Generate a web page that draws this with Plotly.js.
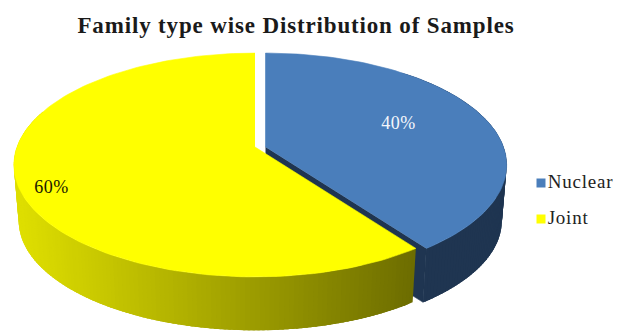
<!DOCTYPE html>
<html>
<head>
<meta charset="utf-8">
<script src="https://cdn.plot.ly/plotly-3.0.1.min.js"></script>
<style>
  html, body { margin: 0; padding: 0; background: #fff; overflow: hidden; }
  #chart { width: 613px; height: 331px; }
  #chart .gtitle { letter-spacing: 0.85px; }
  #chart .textpoint text { letter-spacing: 0.8px; }
  #chart .annotation-text { letter-spacing: 0.5px; }
</style>
</head>
<body>
<div id="chart"></div>
<script>
// Family types and their share of the samples, in per cent
const categories = ["Nuclear", "Joint"];
const shares = [40, 60];
const topColours = ["#4a7ebb", "#ffff00"];

// Perspective model of the disc: centre on screen, radii, foreshortening and thickness
const halfWidth = 238, halfDepth = 109, foreshorten = 0.161;
const apexY = 147, thickness = 56, floorScale = 0.98;
const apexX = [265.5, 255];
const wallStep = 1, wallOverlap = 1.5;
const serif = "'Liberation Serif', 'Times New Roman', serif";

// Map a clockwise angle from twelve o'clock on the disc to screen coordinates
function project(deg, cx, radius, level) {
  const t = deg * Math.PI / 180;
  const X = radius * Math.sin(t), Y = -radius * Math.cos(t);
  const w = 1 - foreshorten * Y;
  const s = level ? floorScale : 1;
  return [cx + s * halfWidth * X / w, apexY + (level ? thickness : 0) + s * halfDepth * Y / w];
}

function arc(from, to, cx, level) {
  const pts = [];
  const n = Math.max(2, Math.ceil(Math.abs(to - from) / 1.5));
  for (let i = 0; i <= n; i++) pts.push(project(from + (to - from) * i / n, cx, 1, level));
  return pts;
}

function polygon(pts, colour, stroke) {
  return {
    x: pts.map(p => p[0]), y: pts.map(p => p[1]),
    mode: "lines", fill: "toself", fillcolor: colour,
    line: { color: colour, width: stroke }, hoverinfo: "skip", showlegend: false
  };
}

// Overlapping strips around the rim, each painted over the edge of the one before
function rim(from, to, cx, shade) {
  for (let a = from; a < to; a += wallStep) {
    const b = Math.min(a + wallStep + wallOverlap, to);
    const strip = arc(a, b, cx, 0).concat(arc(b, a, cx, 1));
    traces.push(polygon(strip, shade(project((a + b) / 2, cx, 1, 0)[0]), 0));
  }
}

// Shade of the joint segment's rim, from light olive on the left to dark on the right
function rimShade(x) {
  const f = Math.min(1, Math.max(0, (x - 20) / 395));
  const v = Math.round(222 - f * (222 - 108));
  return `rgb(${v},${v},0)`;
}

const nuclearEnd = shares[0] / (shares[0] + shares[1]) * 360;
const traces = [];

// Nuclear: cut wall, outer rim, then top face
const darkBlue = "#1f3551";
traces.push(polygon([
  project(0, apexX[0], 0, 0), project(nuclearEnd, apexX[0], 1, 0),
  project(nuclearEnd, apexX[0], 1, 1), project(0, apexX[0], 0, 1)
], darkBlue, 0.6));
rim(40, nuclearEnd, apexX[0], () => darkBlue);
traces.push(polygon(
  [project(0, apexX[0], 0, 0)].concat(arc(0, nuclearEnd, apexX[0], 0)), topColours[0], 0.6));

// Joint: shaded rim, then top face
rim(nuclearEnd, 290, apexX[1], rimShade);
traces.push(polygon(
  [project(0, apexX[1], 0, 0)].concat(arc(nuclearEnd, 360, apexX[1], 0)), topColours[1], 0.6));

// Key on the right, with square swatches
const keyX = 541, keyY = [183, 219];
categories.forEach((name, i) => traces.push({
  x: [keyX], y: [keyY[i]], mode: "markers+text", text: [name],
  textposition: "middle right", cliponaxis: false,
  textfont: { family: serif, size: 19, color: "#222" },
  marker: { symbol: "square", size: 9, color: topColours[i] },
  hoverinfo: "skip", showlegend: false
}));

const labelX = [398, 51], labelY = [123, 187], labelColours = ["#f4f7fb", "#1a1a00"];

const layout = {
  width: 613, height: 331,
  margin: { l: 0, r: 0, t: 0, b: 0 },
  paper_bgcolor: "#fff", plot_bgcolor: "#fff",
  showlegend: false,
  title: {
    text: "<b>Family type wise Distribution of Samples</b>",
    x: 296 / 613, xanchor: "center", y: 1 - 25 / 331, yanchor: "middle",
    font: { family: serif, size: 23, color: "#1a1a1a" }
  },
  xaxis: { range: [0, 613], visible: false, fixedrange: true },
  yaxis: { range: [331, 0], visible: false, fixedrange: true },
  annotations: categories.map((c, i) => ({
    x: labelX[i], y: labelY[i], xref: "x", yref: "y", showarrow: false,
    text: shares[i] + "%",
    font: { family: serif, size: 18, color: labelColours[i] }
  }))
};

Plotly.newPlot("chart", traces, layout, { displayModeBar: false, staticPlot: true });
</script>
</body>
</html>
